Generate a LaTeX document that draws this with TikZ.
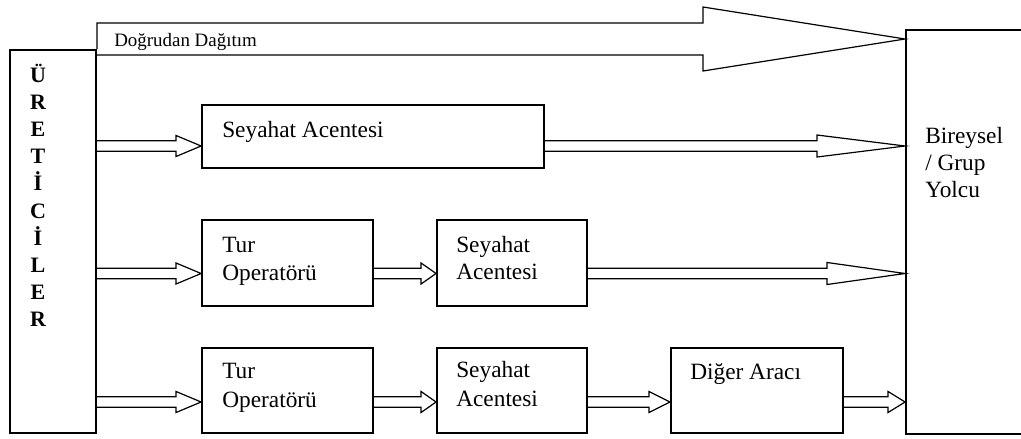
\documentclass[tikz,border=0pt]{standalone}
\usepackage{fontspec}
\setmainfont{Liberation Serif}
\usetikzlibrary{fit,calc}
\tikzset{
  box/.style={draw=black, line width=1.4pt, inner sep=0pt, fit={#1}},
  arrline/.style={draw=black, line width=0.9pt, line join=miter},
  boxtext/.style={anchor=base west, inner sep=0pt, font=\fontsize{17.5}{21}\selectfont},
  smalltext/.style={anchor=base west, inner sep=0pt, font=\fontsize{14.2}{17}\selectfont},
  letter/.style={anchor=base, inner sep=0pt, font=\fontsize{16.5}{20}\selectfont\bfseries},
}
% #1 start, #2 end, #3 half shaft, #4 half head, #5 head length (all px)
\newcommand{\blockarr}[5]{%
  \draw[arrline] let \p1=#1, \p2=#2 in
    (\x1,{\y1+#3*0.75pt}) -- ({\x2-#5*0.75pt},{\y1+#3*0.75pt}) -- ({\x2-#5*0.75pt},{\y1+#4*0.75pt})
    -- (\x2,\y1) -- ({\x2-#5*0.75pt},{\y1-#4*0.75pt}) -- ({\x2-#5*0.75pt},{\y1-#3*0.75pt}) -- (\x1,{\y1-#3*0.75pt});}
\begin{document}
\begin{tikzpicture}[x=0.75pt,y=-0.75pt]
\path[use as bounding box, clip] (0,0) rectangle (1021,439);
% boxes
\node[box={(10,50) (96,433)}] (prod) {};
\node[box={(906,30) (1040,434)}] (cust) {};
\node[box={(202,105) (544,168)}] (sa1) {};
\node[box={(202,220) (373,306)}] (to2) {};
\node[box={(437,220) (587,306)}] (sa2) {};
\node[box={(202,348) (373,433)}] (to3) {};
\node[box={(437,348) (587,433)}] (sa3) {};
\node[box={(671,348) (843,433)}] (da3) {};
% row coordinates
\coordinate (r1) at (0,146);
\coordinate (r2) at (0,273.5);
\coordinate (r3) at (0,402);
% producer letters
\foreach \l [count=\i] in {Ü,R,E,T,İ,C,İ,L,E,R}
  \node[letter] (let\i) at (38,{82+27.2*(\i-1)}) {\l};
% direct distribution big arrow
\draw[arrline] (prod.north east) -- (prod.north east |- 0,23) -- (703,23) -- (703,7)
  -- (cust.west |- 0,39) -- (703,71) -- (703,55) -- (prod.east |- 0,55);
\node[smalltext] (dd) at (114,46) {Doğrudan Dağıtım};
% texts
\node[boxtext] (sa1t) at (222,137) {Seyahat Acentesi};
\node[boxtext] (to2a) at (222,252) {Tur};
\node[boxtext] (to2b) at (222,280) {Operatörü};
\node[boxtext] (sa2a) at (456,252) {Seyahat};
\node[boxtext] (sa2b) at (456,279) {Acentesi};
\node[boxtext] (to3a) at (222,378) {Tur};
\node[boxtext] (to3b) at (222,407) {Operatörü};
\node[boxtext] (sa3a) at (456,377) {Seyahat};
\node[boxtext] (sa3b) at (456,406) {Acentesi};
\node[boxtext] (da3t) at (690,379) {Diğer Aracı};
\node[boxtext] (c1) at (925,143) {Bireysel};
\node[boxtext] (c2) at (925,170) {/ Grup};
\node[boxtext] (c3) at (925,197) {Yolcu};
% row arrows
\blockarr{(prod.east |- r1)}{(sa1.west |- r1)}{5.25}{10.5}{25}
\blockarr{(sa1.east |- r1)}{(cust.west |- r1)}{5.25}{11}{88}
\blockarr{(prod.east |- r2)}{(to2.west |- r2)}{5.25}{10.5}{25}
\blockarr{(to2.east |- r2)}{(sa2.west |- r2)}{5.25}{10.5}{15}
\blockarr{(sa2.east |- r2)}{(cust.west |- r2)}{5.25}{11}{78}
\blockarr{(prod.east |- r3)}{(to3.west |- r3)}{5.25}{10.5}{25}
\blockarr{(to3.east |- r3)}{(sa3.west |- r3)}{5.25}{10.5}{15}
\blockarr{(sa3.east |- r3)}{(da3.west |- r3)}{5.25}{10.5}{21}
\blockarr{(da3.east |- r3)}{(cust.west |- r3)}{5.25}{10.5}{17}
\end{tikzpicture}
\end{document}
